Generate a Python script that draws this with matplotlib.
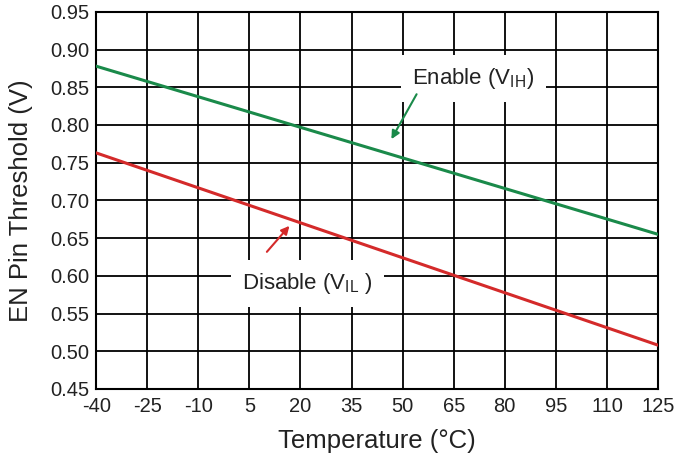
import matplotlib
matplotlib.use("Agg")
import matplotlib.pyplot as plt
import numpy as np

plt.rcParams['font.family'] = ['Liberation Sans', 'DejaVu Sans']
plt.rcParams['mathtext.default'] = 'regular'
plt.rcParams['axes.unicode_minus'] = False

# endpoints
temp = [-40, 125]
v_ih = [0.878, 0.655]   # Enable threshold
v_il = [0.763, 0.508]   # Disable threshold

xticks = np.arange(-40, 126, 15)
yticks = np.arange(0.45, 0.951, 0.05)

fig = plt.figure(figsize=(6.77, 4.57), dpi=100)
ax = fig.add_axes([0.142, 0.149, 0.830, 0.825])

ax.plot(temp, v_ih, color='#1a8a4a', lw=2.2, zorder=3)
ax.plot(temp, v_il, color='#d42a2a', lw=2.2, zorder=3)

ax.set_xlim(-40, 125)
ax.set_ylim(0.45, 0.95)
ax.set_xticks(xticks)
ax.set_yticks(yticks)
ax.set_yticklabels([f"{v:.2f}" for v in yticks])
ax.grid(True, color='black', lw=1.3)
ax.tick_params(length=0, labelsize=14.5, colors='#222222')
ax.tick_params(axis='x', pad=6)
ax.tick_params(axis='y', pad=5)
for s in ax.spines.values():
    s.set_linewidth(1.5)
    s.set_color('black')

ax.set_xlabel('Temperature (°C)', fontsize=18.5, color='#222222', labelpad=9)
ax.set_ylabel('EN Pin Threshold (V)', fontsize=18.5, color='#222222', labelpad=12)

box = dict(boxstyle='square,pad=0.5', fc='white', ec='none')
ax.text(70.8, 0.862, 'Enable (V$_{IH}$)', fontsize=16, ha='center', va='center',
        color='#222222', bbox=box, zorder=4)
ax.annotate('', xy=(46.3, 0.778), xytext=(54.5, 0.844),
            arrowprops=dict(arrowstyle='-|>', color='#1a8a4a', lw=1.5,
                            mutation_scale=12), zorder=4)

ax.text(22.0, 0.590, 'Disable (V$_{IL}$ )', fontsize=16, ha='center', va='center',
        color='#222222', bbox=box, zorder=4)
ax.annotate('', xy=(17.3, 0.669), xytext=(9.6, 0.629),
            arrowprops=dict(arrowstyle='-|>', color='#d42a2a', lw=1.5,
                            mutation_scale=12), zorder=4)

fig.savefig('out.png', dpi=100)
